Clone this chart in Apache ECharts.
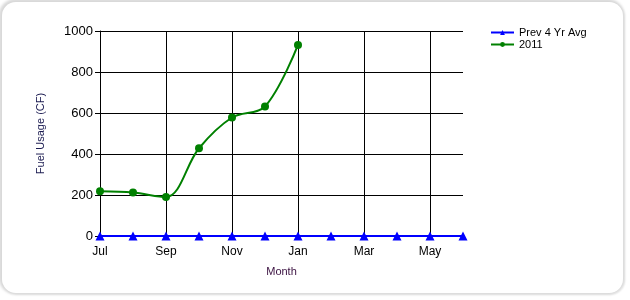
<!DOCTYPE html>
<html><head><meta charset="utf-8">
<script src="https://cdn.jsdelivr.net/npm/echarts@6/dist/echarts.min.js"></script>
<style>
html,body{margin:0;padding:0;background:#fff;width:630px;height:300px;overflow:hidden}
#frame{position:absolute;left:2px;top:2px;width:621px;height:291px;border-radius:14px;background:#fff;box-shadow:-1px -1px 3px 2px #d8d8d8, 1px 1px 2px 1px #e4e4e4}
#c{position:absolute;left:0;top:0;width:630px;height:300px}
</style></head>
<body><div id="frame"></div><div id="c"></div>
<script>
const months = ['Jul','Aug','Sep','Oct','Nov','Dec','Jan','Feb','Mar','Apr','May','Jun'];
const prevAvg = [0,0,0,0,0,0,0,0,0,0,0,0];
const usage2011 = [218,212,190,428,578,632,932,null,null,null,null,null];
const yTicks = {min:0, max:1000, interval:200};

const chart = echarts.init(document.getElementById('c'), null, {renderer:'canvas'});
chart.setOption({
  animation:false,
  textStyle:{fontFamily:'Liberation Sans, Arial, sans-serif'},
  grid:{left:100, right:167, top:31, bottom:64, containLabel:false},
  legend:{
    orient:'vertical', left:490, top:27, padding:0, itemWidth:23, itemHeight:6, itemGap:1,
    textStyle:{fontSize:11, color:'#000'},
    data:['Prev 4 Yr Avg','2011']
  },
  xAxis:{
    type:'category', data:months, boundaryGap:false,
    name:'Month', nameLocation:'middle', nameGap:30,
    nameTextStyle:{fontSize:11, color:'#3a1040'},
    axisLine:{lineStyle:{color:'#000', width:1}},
    axisTick:{show:false},
    axisLabel:{interval:1, fontSize:12, color:'#000', margin:10},
    splitLine:{show:true, interval:1, lineStyle:{color:'#000', width:1}}
  },
  yAxis:{
    type:'value', min:yTicks.min, max:yTicks.max, interval:yTicks.interval,
    name:'Fuel Usage (CF)', nameLocation:'middle', nameGap:54,
    nameTextStyle:{fontSize:11, color:'#1a1a50'},
    axisLine:{show:true, lineStyle:{color:'#000', width:1}},
    axisTick:{show:true, length:5, lineStyle:{color:'#000'}},
    axisLabel:{fontSize:13, color:'#000', margin:7, formatter:function(v){return String(v);}},
    splitLine:{show:true, lineStyle:{color:'#000', width:1}}
  },
  series:[
    {name:'Prev 4 Yr Avg', type:'line', data:prevAvg, z:5,
     lineStyle:{color:'#0000ff', width:2}, itemStyle:{color:'#0000ff'},
     symbol:'triangle', symbolSize:9, showAllSymbol:true},
    {name:'2011', type:'line', data:usage2011, smooth:0.35, z:6,
     lineStyle:{color:'#008000', width:2}, itemStyle:{color:'#008000'},
     symbol:'circle', symbolSize:8, showAllSymbol:true}
  ]
});
</script></body></html>
